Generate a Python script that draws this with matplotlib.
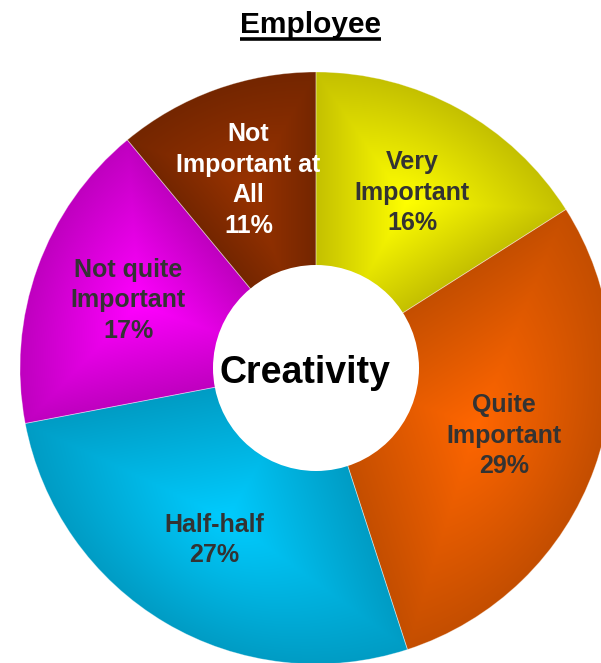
import numpy as np
import matplotlib
matplotlib.use("Agg")
import matplotlib.pyplot as plt
from matplotlib.colors import to_rgb
from matplotlib.patches import Circle
from matplotlib.lines import Line2D

# chart data
labels = ["Very\nImportant", "Quite\nImportant", "Half-half",
          "Not quite\nImportant", "Not\nImportant at\nAll"]
values = [16, 29, 27, 17, 11]
bright = ["#ffff00", "#ff6600", "#00ccff", "#ff00ff", "#993300"]
dark = ["#c4c000", "#c44e00", "#009cc4", "#bf00bf", "#742600"]
text_colors = ["#333333", "#333333", "#333333", "#333333", "#ffffff"]
title = "Employee"
center_text = "Creativity"

plt.rcParams['font.family'] = ['Liberation Sans', 'DejaVu Sans']

W, H = 601, 663
fig = plt.figure(figsize=(W / 100, H / 100), dpi=100)
ax = fig.add_axes([0, 0, 1, 1])

wedges, _ = ax.pie(values, startangle=90, counterclock=False, radius=1.0,
                   wedgeprops=dict(facecolor='none', edgecolor=(1, 1, 1, 0.35),
                                   linewidth=0.6, zorder=2))

# pie centre at (316, 368) px, radius 296 px
xmin, xmax = -316 / 296, (W - 316) / 296
ymin, ymax = -(H - 368) / 296, 368 / 296

gx = np.linspace(xmin, xmax, 2 * W)
gy = np.linspace(ymin, ymax, 2 * H)
X, Y = np.meshgrid(gx, gy)

# path gradient: bright at slice centroid, dark at slice border
for w, c0, c1 in zip(wedges, bright, dark):
    t1, t2 = np.radians(w.theta1), np.radians(w.theta2)
    r = w.r
    ox, oy = w.center
    half = (t2 - t1) / 2
    mid = (t1 + t2) / 2
    rc = 2 * r * np.sin(half) / (3 * half)
    c = np.array([ox + rc * np.cos(mid), oy + rc * np.sin(mid)])
    arc = np.linspace(t1, t2, 90)
    verts = np.vstack([[ox, oy], np.column_stack([ox + r * np.cos(arc), oy + r * np.sin(arc)])])
    g = np.zeros_like(X)
    for a, b in zip(verts, np.roll(verts, -1, axis=0)):
        d = b - a
        n = np.array([d[1], -d[0]])
        n /= np.hypot(*n)
        h = n @ (a - c)
        g = np.maximum(g, (n[0] * (X - c[0]) + n[1] * (Y - c[1])) / h)
    t = np.clip(g, 0, 1)
    img = (1 - t)[..., None] * np.array(to_rgb(c0)) + t[..., None] * np.array(to_rgb(c1))
    im = ax.imshow(img, extent=(xmin, xmax, ymin, ymax), origin='lower',
                   aspect='auto', zorder=1, interpolation='bilinear')
    im.set_clip_path(w)

ax.add_patch(Circle((0, 0), 0.348, facecolor='white', edgecolor='none', zorder=3))
ax.text(-0.037, -0.05, center_text, ha='center', va='baseline',
        fontsize=27, fontweight='bold', color='black', zorder=4)

for w, lab, v, tc in zip(wedges, labels, values, text_colors):
    mid = np.radians((w.theta1 + w.theta2) / 2)
    ax.text(0.675 * np.cos(mid), 0.675 * np.sin(mid), f"{lab}\n{v}%",
            ha='center', va='center', fontsize=18, fontweight='bold',
            color=tc, linespacing=1.34, zorder=4)

ax.set_xlim(xmin, xmax)
ax.set_ylim(ymin, ymax)
ax.set_aspect('auto')
ax.axis('off')

tt = fig.text(310 / W, 1 - 33 / H, title, ha='center', va='baseline',
              fontsize=21.5, fontweight='bold')
fig.canvas.draw()
bb = tt.get_window_extent()
uy = 1 - 39 / H
fig.add_artist(Line2D([bb.x0 / W, bb.x1 / W], [uy, uy], transform=fig.transFigure,
                      color='black', linewidth=2.6, solid_capstyle='butt'))

fig.savefig('out.png', dpi=100)
